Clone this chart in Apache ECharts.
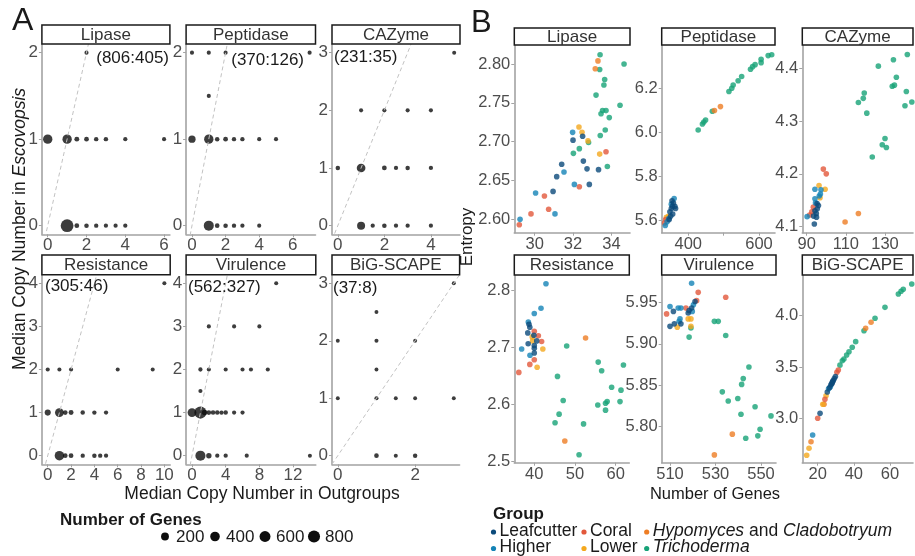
<!DOCTYPE html>
<html><head><meta charset="utf-8">
<script src="https://cdn.jsdelivr.net/npm/echarts@6/dist/echarts.min.js"></script>
<style>html,body{margin:0;padding:0;background:#fff}#c{width:915px;height:556px}</style>
</head><body><div id="c"></div>
<script>
// ---------- Panel A data: [median copies in outgroups, median copies in Escovopsis, number of genes]
const A_lipase = [[2,2,3],[0,1,365],[1,1,365],[1.5,1,20],[2,1,15],[2.5,1,8],[3,1,8],[4,1,5],[6,1,3],
  [1,0,940],[1.5,0,15],[2,0,10],[2.5,0,6],[3,0,5],[3.5,0,4],[4,0,5]];
const A_peptidase = [[0,2,3],[1,2,3],[2,2,3],[7,2,3],[1,1.5,3],
  [0,1,150],[1,1,365],[1.5,1,10],[2,1,15],[2.5,1,6],[3,1,6],[4,1,4],[5,1,3],
  [1,0,460],[1.5,0,12],[2,0,10],[2.5,0,6],[3,0,5],[4,0,3]];
const A_cazyme = [[5,3,2],[1,2,3],[2,2,3],[3,2,3],[4,2,3],
  [0,1,10],[1,1,290],[2,1,15],[2.5,1,5],[3,1,8],[4,1,5],
  [1,0,215],[1.5,0,5],[2,0,10],[2.5,0,5],[3,0,5],[4,0,4]];
const A_resistance = [[10,4,2],[0,2,3],[1,2,3],[2,2,3],[6,2,2],[9,2,2],
  [0,1,70],[1,1,300],[1.5,1,15],[2,1,20],[3,1,8],[4,1,6],[5,1,5],
  [1,0,374],[1.5,0,15],[2,0,15],[3,0,6],[4,0,8],[4.5,0,6],[5,0,5]];
const A_virulence = [[10,4,2],[2,3,3],[5,3,3],[8,3,3],
  [1,2,5],[2,2,3],[4,2,3],[6,2,3],[7,2,3],[9,2,3],[1,1.5,3],
  [0,1,300],[1,1,800],[1.5,1,40],[2,1,15],[2.5,1,10],[3,1,8],[3.5,1,6],[4,1,8],[5,1,4],[6,1,4],
  [1,0,470],[2,0,36],[3,0,5],[4,0,5],[6.5,0,3],[14,0,2]];
const A_bigscape = [[3,3,1],[1,2.5,1],[0,2,1],[1,2,2],[2,2,1],[1,1.5,1],[0,1,1],[1,1,3],
  [1.5,1,1],[2,1,1],[3,1,1],[1,0,12],[1.5,0,2],[2,0,8]];
const A_titles = ['Lipase','Peptidase','CAZyme','Resistance','Virulence','BiG-SCAPE'];
const A_ratios = ['(806:405)','(370:126)','(231:35)','(305:46)','(562:327)','(37:8)'];
const A_xTicks = [[0,2,4,6],[0,2,4,6],[0,2,4],[0,2,4,6,8,10],[0,4,8,12],[0,2]];
const A_yTicks = [[0,1,2],[0,1,2],[0,1,2,3],[0,1,2,3,4],[0,1,2,3,4],[0,1,2,3]];
const sizeBreaks = [200,400,600,800];

// ---------- Panel B data: [number of genes, entropy, group code]
const B_lipase = [[33.41,2.812,'T'],[34.66,2.800,'T'],[33.39,2.793,'T'],[33.65,2.780,'T'],[33.61,2.773,'T'],[33.20,2.760,'T'],
  [34.45,2.747,'T'],[33.54,2.740,'T'],[33.72,2.740,'T'],[33.46,2.736,'T'],[33.89,2.731,'T'],[33.68,2.715,'T'],[33.42,2.708,'T'],
  [32.81,2.699,'T'],[32.33,2.691,'T'],[32.02,2.685,'T'],[33.79,2.668,'T'],
  [33.30,2.804,'H'],[33.16,2.794,'H'],
  [33.72,2.687,'C'],[32.33,2.642,'C'],[30.73,2.613,'C'],[29.20,2.593,'C'],[29.81,2.607,'C'],[30.51,2.630,'C'],
  [32.31,2.719,'Lo'],[32.47,2.712,'Lo'],[32.78,2.701,'Lo'],[33.39,2.684,'Lo'],
  [32.0,2.702,'L'],[32.5,2.707,'L'],[31.41,2.671,'L'],[31.15,2.655,'L'],[32.54,2.675,'L'],[32.73,2.665,'L'],[33.33,2.664,'L'],
  [32.85,2.645,'L'],[30.96,2.636,'L'],
  [31.98,2.712,'Hi'],[31.53,2.661,'Hi'],[32.07,2.645,'Hi'],[30.05,2.634,'Hi'],[31.06,2.607,'Hi'],[29.24,2.600,'Hi']];
const B_peptidase = [[428,6.011,'T'],[440,6.038,'T'],[444,6.047,'T'],[449,6.056,'T'],[468,6.096,'T'],[515,6.185,'T'],[523,6.200,'T'],
  [527,6.215,'T'],[541,6.234,'T'],[551,6.253,'T'],[576,6.286,'T'],[582,6.298,'T'],[589,6.307,'T'],[606,6.331,'T'],[606,6.316,'T'],
  [626,6.348,'T'],[636,6.352,'T'],
  [474,6.099,'H'],[491,6.117,'H'],
  [333,5.59,'C'],[336,5.605,'C'],
  [338,5.615,'Lo'],[344,5.62,'Lo'],
  [335,5.578,'Hi'],[340,5.595,'Hi'],[345,5.61,'Hi'],[360,5.70,'Hi'],[352,5.675,'Hi'],
  [348,5.64,'L'],[352,5.655,'L'],[355,5.665,'L'],[358,5.68,'L'],[362,5.665,'L'],[364,5.655,'L'],[356,5.63,'L'],[350,5.62,'L'],
  [346,5.605,'L'],[354,5.69,'L']];
const B_cazyme = [[141.4,4.426,'T'],[126.6,4.404,'T'],[134.3,4.416,'T'],[135.8,4.383,'T'],[133.7,4.366,'T'],[134.8,4.368,'T'],
  [140.9,4.356,'T'],[119.4,4.353,'T'],[118.9,4.343,'T'],[116.4,4.335,'T'],[143.7,4.336,'T'],[140.2,4.329,'T'],[120.7,4.315,'T'],
  [130.0,4.267,'T'],[128.6,4.255,'T'],[130.7,4.250,'T'],[123.5,4.232,'T'],
  [98.5,4.209,'C'],[100.0,4.200,'C'],[92.6,4.128,'C'],[91.5,4.122,'C'],[93.4,4.137,'C'],
  [109.6,4.109,'H'],[116.4,4.125,'H'],
  [90.2,4.119,'Hi'],[94.2,4.171,'Hi'],[97.3,4.170,'Hi'],[97.0,4.162,'Hi'],[94.2,4.153,'Hi'],[96.4,4.158,'Hi'],[94.5,4.145,'Hi'],
  [96.3,4.178,'Lo'],[99.4,4.171,'Lo'],[96.8,4.155,'Lo'],
  [93.9,4.105,'L'],[94.9,4.125,'L'],[95.4,4.134,'L'],[95.3,4.144,'L'],[94.2,4.130,'L'],[95.0,4.118,'L'],[93.5,4.120,'L'],[96.0,4.140,'L']];
const B_resistance = [[42.87,2.811,'Hi'],[41.65,2.768,'Hi'],[40.0,2.759,'Hi'],[38.53,2.744,'Hi'],[36.9,2.697,'Hi'],[38.94,2.686,'Hi'],
  [38.7,2.740,'L'],[38.9,2.735,'L'],[38.4,2.725,'L'],[39.9,2.721,'L'],[38.5,2.706,'L'],[40.6,2.711,'L'],[40.0,2.698,'L'],
  [40.0,2.690,'L'],[40.0,2.703,'L'],
  [40.0,2.728,'C'],[41.0,2.720,'C'],[41.8,2.710,'C'],[40.0,2.678,'C'],[38.9,2.670,'C'],[36.2,2.656,'C'],
  [39.6,2.711,'Lo'],[42.1,2.697,'Lo'],[40.7,2.665,'Lo'],[39.5,2.718,'Lo'],
  [52.6,2.716,'H'],[47.5,2.536,'H'],
  [47.96,2.702,'T'],[55.7,2.674,'T'],[56.55,2.659,'T'],[61.9,2.669,'T'],[45.7,2.649,'T'],[59.0,2.630,'T'],[61.3,2.625,'T'],
  [47.1,2.607,'T'],[57.9,2.605,'T'],[57.5,2.602,'T'],[55.6,2.599,'T'],[61.06,2.605,'T'],[57.5,2.590,'T'],[46.1,2.583,'T'],
  [45.1,2.568,'T'],[52.1,2.566,'T'],[51.0,2.512,'T']];
const B_virulence = [[519.5,5.973,'Hi'],[510.0,5.945,'Hi'],[513.6,5.943,'Hi'],[514.8,5.943,'Hi'],[514.4,5.930,'Hi'],[514.0,5.927,'Hi'],
  [520.3,5.947,'Hi'],[519.8,5.939,'Hi'],
  [511.5,5.939,'L'],[510.0,5.921,'L'],[511.9,5.924,'L'],[514.8,5.924,'L'],[518.0,5.937,'L'],[518.4,5.940,'L'],[521.0,5.951,'L'],
  [519.5,5.943,'L'],
  [508.5,5.936,'C'],[522.4,5.962,'C'],[521.7,5.952,'C'],[517.0,5.943,'C'],[534.5,5.956,'C'],
  [513.2,5.920,'Lo'],[518.0,5.930,'Lo'],[519.2,5.930,'Lo'],[519.2,5.921,'Lo'],
  [519.2,5.919,'T'],[518.4,5.908,'T'],[529.5,5.927,'T'],[531.2,5.927,'T'],[534.5,5.910,'T'],[544.7,5.872,'T'],[542.2,5.858,'T'],
  [541.5,5.851,'T'],[533.0,5.842,'T'],[535.6,5.831,'T'],[539.8,5.834,'T'],[547.4,5.824,'T'],[541.2,5.815,'T'],[554.4,5.813,'T'],
  [549.6,5.797,'T'],[548.6,5.789,'T'],[543.3,5.786,'T'],
  [537.4,5.791,'H'],[529.5,5.766,'H']];
const B_bigscape = [[13.9,2.645,'Lo'],[15.2,2.713,'Lo'],[22.8,3.140,'Lo'],[24.6,3.223,'Lo'],
  [16.3,2.777,'H'],[23.5,3.140,'H'],[46.5,3.878,'H'],[49.5,3.936,'H'],
  [17.2,2.842,'Hi'],[26.0,3.29,'Hi'],[27.0,3.31,'Hi'],
  [21.3,3.052,'L'],[25.3,3.259,'L'],[26.5,3.30,'L'],[27.3,3.33,'L'],[28.0,3.35,'L'],[28.6,3.37,'L'],[29.2,3.39,'L'],[29.8,3.41,'L'],
  [27.8,3.34,'L'],[28.3,3.36,'L'],
  [20.0,3.004,'C'],[24.0,3.188,'C'],[31.4,3.473,'C'],[30.6,3.45,'C'],
  [32.3,3.52,'T'],[33.6,3.563,'T'],[34.5,3.58,'T'],[36.0,3.618,'T'],[37.3,3.650,'T'],[39.1,3.693,'T'],[41.0,3.748,'T'],
  [45.6,3.854,'T'],[51.7,3.975,'T'],[57.2,4.081,'T'],[64.6,4.21,'T'],[66.1,4.237,'T'],[67.3,4.256,'T'],[72.0,4.308,'T']];
const B_xTicks = [[30,32,34],[400,500,600],[90,110,130],[40,50,60],[510,530,550],[20,40,60]];
const B_xLabels = [[30,32,34],[400,600],[90,110,130],[40,50,60],[510,530,550],[20,40,60]];
const B_yTicks = [[2.60,2.65,2.70,2.75,2.80],[5.6,5.8,6.0,6.2],[4.1,4.2,4.3,4.4],[2.5,2.6,2.7,2.8],[5.80,5.85,5.90,5.95],[3.0,3.5,4.0]];
const B_yDigits = [2,1,1,1,2,1];
const groupCodes = ['T','H','Lo','C','Hi','L'];
const groupNames = {L:'Leafcutter',Hi:'Higher',C:'Coral',Lo:'Lower',H:'Hypomyces and Cladobotryum',T:'Trichoderma'};
const groupColors = {L:'#0b4a7b',Hi:'#1483b6',C:'#e2583b',Lo:'#f4a81d',H:'#ee7d24',T:'#16a277'};

// ---------- layout (pixels) and axis ranges
const FONT = 'Liberation Sans, Arial, sans-serif';
const A_data = [A_lipase,A_peptidase,A_cazyme,A_resistance,A_virulence,A_bigscape];
const B_data = [B_lipase,B_peptidase,B_cazyme,B_resistance,B_virulence,B_bigscape];
const A_grid = [[41.9,44,128,190.3],[186.1,44,129.4,190.3],[332,44,128,190.3],
                [41.9,274.7,128.3,189.6],[186.1,274.7,129.7,189.6],[332,274.7,127.6,189.6]];
const A_xr = [[-0.3,6.3],[-0.35,7.35],[-0.25,5.25],[-0.5,10.5],[-0.7,14.7],[-0.15,3.15]];
const A_yr = [[-0.1,2.1],[-0.1,2.1],[-0.15,3.15],[-0.2,4.2],[-0.2,4.2],[-0.15,3.15]];
const B_grid = [[514.3,45,115.7,187.7],[661.7,45,113.3,187.7],[802.3,45,110.7,187.7],
                [514.3,275,115,187.7],[661.7,275,114.3,187.7],[802.3,275,110.7,187.7]];
const B_xr = [[28.94,34.97],[324.8,645.3],[87.75,144.3],[35.09,63.34],[506.35,556.6],[11.48,72.7]];
const B_yr = [[2.5828,2.8245],[5.5456,6.396],[4.0886,4.444],[2.4982,2.8262],[5.7566,5.9829],[2.573,4.395]];

function geneSize(n){ return 3.6 + 0.3*Math.sqrt(n); }

const grids=[], xAxes=[], yAxes=[], series=[], graphics=[];
function mkAxis(gi, r, ticks, labels, fmt, fs, isX){
  return {type:'value', gridIndex:gi, min:r[0], max:r[1],
    axisLine:{show:true, onZero:false, lineStyle:{color:'#a3a3a3', width:1.6}},
    axisTick:{show:true, length:3, customValues:ticks, lineStyle:{color:'#a3a3a3', width:1}},
    axisLabel:{show:true, customValues:labels, formatter:fmt, fontSize:fs, color:'#4d4d4d', fontFamily:FONT, margin:isX?3:4},
    splitLine:{show:false}};
}
function strip(x,y,w,h,txt){
  graphics.push({type:'rect', shape:{x:x,y:y,width:w,height:h}, style:{fill:'#fff', stroke:'#1a1a1a', lineWidth:1.5}, z:10});
  graphics.push({type:'text', x:x+w/2, y:y+h/2+0.5, z:11, style:{text:txt, fontSize:17, fontFamily:FONT, fill:'#333',
    align:'center', verticalAlign:'middle', textAlign:'center', textVerticalAlign:'middle'}});
}
function txt(x,y,t,opt){
  graphics.push(Object.assign({type:'text', x:x, y:y, z:11, style:Object.assign({text:t, fontSize:17, fontFamily:FONT, fill:'#1a1a1a',
    align:'left', verticalAlign:'middle', textAlign:'left', textVerticalAlign:'middle'}, opt||{})}));
}

// Panel A
A_data.forEach((d,i)=>{
  const g=A_grid[i];
  grids.push({left:g[0], top:g[1], width:g[2], height:g[3]});
  xAxes.push(mkAxis(i, A_xr[i], A_xTicks[i], A_xTicks[i], v=>String(v), 17, true));
  yAxes.push(mkAxis(i, A_yr[i], A_yTicks[i], A_yTicks[i], v=>String(v), 17, false));
  series.push({type:'scatter', xAxisIndex:i, yAxisIndex:i, data:d, symbolSize:v=>geneSize(v[2]),
    itemStyle:{color:'#0d0d0d'}, z:2, animation:false, silent:true});
  const lo=Math.min(A_xr[i][0],A_yr[i][0]), hi=Math.max(A_xr[i][1],A_yr[i][1]);
  series.push({type:'line', xAxisIndex:i, yAxisIndex:i, data:[[lo,lo],[hi,hi]], symbol:'none', clip:true,
    lineStyle:{color:'#c2c2c2', width:1, type:[4,3]}, z:3, animation:false, silent:true});
  const top = i<3 ? 25 : 255;
  strip(g[0], top, g[2], (i<3?44:274.7)-top, A_titles[i]);
});
// ratio annotations
txt(169,58.5,A_ratios[0],{align:'right',textAlign:'right'});
txt(304,60,A_ratios[1],{align:'right',textAlign:'right'});
txt(334,57.7,A_ratios[2]);
txt(45,286.7,A_ratios[3]);
txt(188,287,A_ratios[4]);
txt(333,288,A_ratios[5]);

// Panel B
B_data.forEach((d,k)=>{
  const i=k+6, g=B_grid[k];
  grids.push({left:g[0], top:g[1], width:g[2], height:g[3]});
  xAxes.push(mkAxis(i, B_xr[k], B_xTicks[k], B_xLabels[k], v=>String(v), 16.5, true));
  yAxes.push(mkAxis(i, B_yr[k], B_yTicks[k], B_yTicks[k], v=>v.toFixed(B_yDigits[k]), 16.5, false));
  groupCodes.forEach(code=>{
    series.push({type:'scatter', name:groupNames[code], xAxisIndex:i, yAxisIndex:i,
      data:d.filter(p=>p[2]===code).map(p=>[p[0],p[1]]), symbolSize:5.6,
      itemStyle:{color:groupColors[code]}, z:2, animation:false, silent:true});
  });
  const top = k<3 ? 28 : 255;
  strip(g[0], top, g[2], g[1]-top, A_titles[k]);
});

// panel letters and axis titles
txt(12,21.5,'A',{fontSize:32});
txt(471,23,'B',{fontSize:31});
graphics.push({type:'text', x:20, y:229, rotation:Math.PI/2, z:11, style:{
  text:'{n|Median Copy Number in }{i|Escovopsis}', fill:'#1a1a1a', align:'center', verticalAlign:'middle',
  textAlign:'center', textVerticalAlign:'middle',
  rich:{n:{fontSize:17.5, fontFamily:FONT, fill:'#1a1a1a'}, i:{fontSize:17.5, fontFamily:FONT, fontStyle:'italic', fill:'#1a1a1a'}}}});
txt(262,494,'Median Copy Number in Outgroups',{fontSize:17.5, align:'center', textAlign:'center'});
graphics.push({type:'text', x:467, y:237, rotation:Math.PI/2, z:11, style:{text:'Entropy', fontSize:17, fontFamily:FONT,
  fill:'#1a1a1a', align:'center', verticalAlign:'middle', textAlign:'center', textVerticalAlign:'middle'}});
txt(715,494,'Number of Genes',{fontSize:16.5, align:'center', textAlign:'center'});

// size legend (panel A)
txt(60,520,'Number of Genes',{fontSize:17, fontWeight:'bold'});
const sizeDotX=[165,215,265,314];
sizeBreaks.forEach((b,j)=>{
  graphics.push({type:'circle', shape:{cx:sizeDotX[j], cy:536.5, r:geneSize(b)/2}, style:{fill:'#0d0d0d'}, z:11});
  txt(sizeDotX[j]+11,537,String(b),{fontSize:17});
});

// group legend (panel B)
txt(493,514,'Group',{fontSize:17, fontWeight:'bold'});
const legOrder=[['L','Hi'],['C','Lo'],['H','T']];
const legDotX=[493.5,584,646.7], legRowY=[531,547.5];
const legRich={n:{fontSize:17.5,fontFamily:FONT,fill:'#1a1a1a'}, i:{fontSize:17.5,fontFamily:FONT,fontStyle:'italic',fill:'#1a1a1a'}};
const legText={L:'{n|Leafcutter}',Hi:'{n|Higher}',C:'{n|Coral}',Lo:'{n|Lower}',
  H:'{i|Hypomyces}{n| and }{i|Cladobotryum}',T:'{i|Trichoderma}'};
legOrder.forEach((col,c)=>col.forEach((code,r)=>{
  graphics.push({type:'circle', shape:{cx:legDotX[c], cy:legRowY[r]+1, r:2.6}, style:{fill:groupColors[code]}, z:11});
  graphics.push({type:'text', x:legDotX[c]+6, y:legRowY[r], z:11, style:{text:legText[code], rich:legRich,
    align:'left', verticalAlign:'middle', textAlign:'left', textVerticalAlign:'middle'}});
}));

const chart = echarts.init(document.getElementById('c'), null, {renderer:'canvas'});
chart.setOption({animation:false, backgroundColor:'#fff', textStyle:{fontFamily:FONT},
  grid:grids, xAxis:xAxes, yAxis:yAxes, series:series, graphic:{elements:graphics}});
</script></body></html>
